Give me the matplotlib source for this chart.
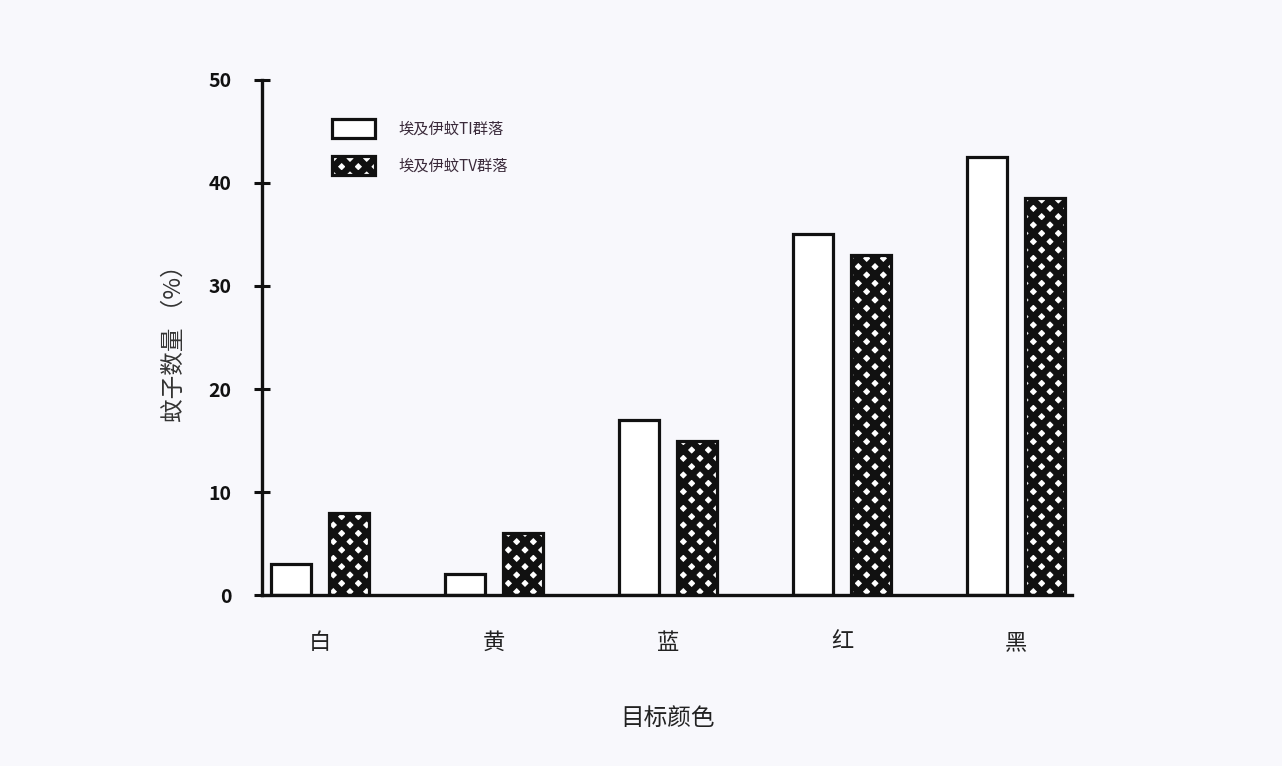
import numpy as np
import matplotlib
matplotlib.use("Agg")
import matplotlib.pyplot as plt

plt.rcParams['font.family'] = ['Noto Sans CJK SC', 'DejaVu Sans']
plt.rcParams['hatch.linewidth'] = 4.7
plt.rcParams['hatch.color'] = '#111111'

# data
categories = ['白', '黄', '蓝', '红', '黑']
ti_values = [3, 2, 17, 35, 42.5]
tv_values = [8, 6, 15, 33, 38.5]
series_names = ['埃及伊蚊TI群落', '埃及伊蚊TV群落']
y_ticks = [0, 10, 20, 30, 40, 50]

bg = '#f8f8fc'
ink = '#111111'

fig = plt.figure(figsize=(12.82, 7.66), dpi=100, facecolor=bg)
ax = fig.add_axes([0.2044, 0.2232, 0.6318, 0.6724], facecolor=bg)

x = np.arange(len(categories))
w = 0.23
off = 0.167
ax.bar(x - off, ti_values, w, facecolor='white', edgecolor=ink, linewidth=2.3, label=series_names[0])
ax.bar(x + off, tv_values, w, facecolor='white', edgecolor=ink, linewidth=2.3,
       hatch='xx', label=series_names[1])

ax.set_xlim(-0.333, 4.32)
ax.set_ylim(0, 50)
ax.spines['top'].set_visible(False)
ax.spines['right'].set_visible(False)
for s in ['left', 'bottom']:
    ax.spines[s].set_linewidth(2.4)
    ax.spines[s].set_color(ink)

ax.set_yticks(y_ticks)
ax.set_yticklabels([str(t) for t in y_ticks], fontsize=14, fontweight='bold', color=ink)
ax.tick_params(axis='y', direction='inout', length=12, width=2.2, color=ink, pad=16)
ax.set_xticks(x)
ax.set_xticklabels(categories, fontsize=16, color='#222222')
ax.tick_params(axis='x', length=0, pad=26)

ax.set_ylabel('蚊子数量 （%）', fontsize=17, color='#333333', labelpad=16)
ax.set_xlabel('目标颜色', fontsize=17, color='#222222', labelpad=38)

leg = ax.legend(loc='upper left', bbox_to_anchor=(0.07, 0.95), frameon=False,
                fontsize=11, handlelength=2.8, handleheight=1.5, labelspacing=1.2,
                handletextpad=1.5)
for t in leg.get_texts():
    t.set_color('#3a2a3a')

fig.savefig('out.png', dpi=100, facecolor=bg)
